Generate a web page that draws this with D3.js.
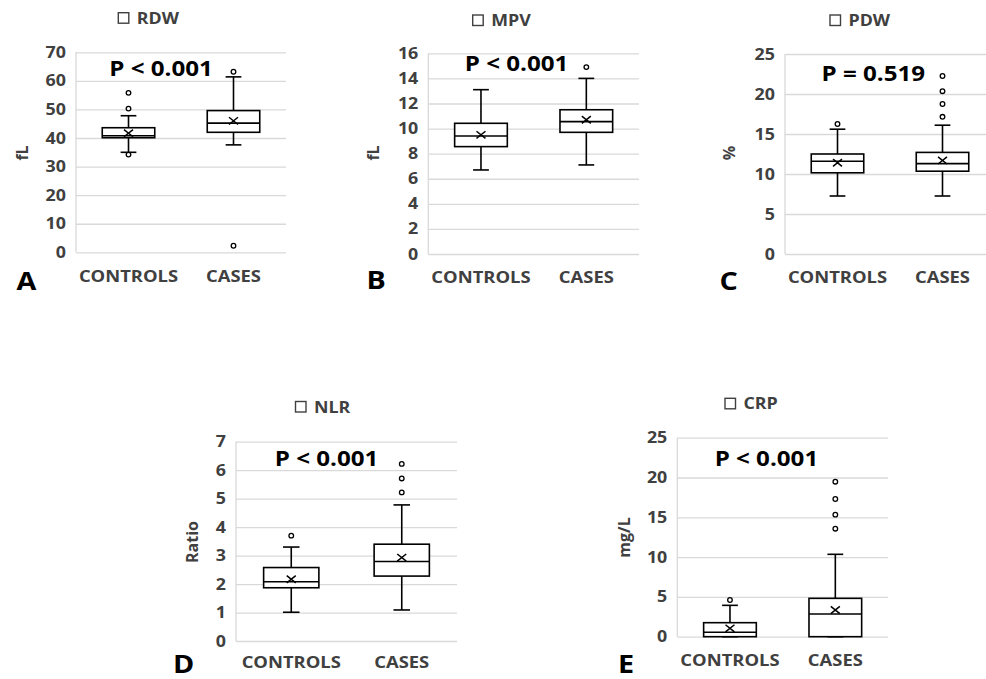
<!DOCTYPE html>
<html>
<head>
<meta charset="utf-8">
<script src="https://cdn.jsdelivr.net/npm/d3@7"></script>
<style>
  html, body { margin: 0; padding: 0; background: #fff; }
  svg { display: block; }
  text { font-family: "Open Sans", "Noto Sans", sans-serif; font-weight: 700; }
</style>
</head>
<body>
<svg id="chart" width="986" height="679"></svg>
<script>
// ---------------- DATA ----------------
const groups = ["CONTROLS", "CASES"];
const markers = ["RDW", "MPV", "PDW", "NLR", "CRP"];
const units = ["fL", "fL", "%", "Ratio", "mg/L"];
const pValues = ["P < 0.001", "P < 0.001", "P = 0.519", "P < 0.001", "P < 0.001"];
const panelLetters = ["A", "B", "C", "D", "E"];
const yMaxima = [70, 16, 25, 7, 25];
const yTickSteps = [10, 2, 5, 1, 5];

// box statistics per group: [min whisker, Q1, median, Q3, max whisker, mean]
const rdwStats = [[35.0, 40.1, 40.8, 43.6, 47.8, 41.7], [37.6, 42.0, 45.2, 49.6, 61.4, 46.0]];
const rdwOutliers = [[55.8, 50.3, 34.2], [63.2, 2.3]];
const mpvStats = [[6.7, 8.56, 9.41, 10.42, 13.1, 9.5], [7.1, 9.7, 10.55, 11.5, 14.0, 10.7]];
const mpvOutliers = [[], [14.9]];
const pdwStats = [[7.25, 10.15, 11.6, 12.5, 15.6, 11.4], [7.25, 10.35, 11.3, 12.7, 16.1, 11.7]];
const pdwOutliers = [[16.25], [22.25, 20.35, 18.75, 17.15]];
const nlrStats = [[1.01, 1.87, 2.08, 2.58, 3.30, 2.17], [1.09, 2.28, 2.79, 3.40, 4.78, 2.93]];
const nlrOutliers = [[3.70], [6.22, 5.71, 5.22]];
const crpStats = [[0, 0, 0.55, 1.76, 3.94, 1.05], [0, 0, 2.85, 4.82, 10.35, 3.35]];
const crpOutliers = [[4.61], [19.47, 17.3, 15.33, 13.57]];

const allStats = [rdwStats, mpvStats, pdwStats, nlrStats, crpStats];
const allOutliers = [rdwOutliers, mpvOutliers, pdwOutliers, nlrOutliers, crpOutliers];

// ---------------- LAYOUT ----------------
const layout = [
  {left: 76,    right: 286, top: 52.3,  bottom: 252.3, legendX: 118.3, legendY: 12.7,  pX: 161,   pY: 76,  letterX: 16.5,  letterY: 289.5, yLabelX: 22.5,  yLabelY: 153,   xLabelY: 281.7},
  {left: 428.3, right: 639, top: 53.3,  bottom: 254,   legendX: 472.7, legendY: 15,    pX: 516.5, pY: 71,  letterX: 366.5, letterY: 288.5, yLabelX: 373.3, yLabelY: 153,   xLabelY: 282.7},
  {left: 785,   right: 995, top: 54,    bottom: 254,   legendX: 830,   legendY: 15,    pX: 873.3, pY: 81,  letterX: 719.5, letterY: 290,   yLabelX: 729.5, yLabelY: 153,   xLabelY: 282.7},
  {left: 236,   right: 457, top: 441.7, bottom: 641,   legendX: 295.5, legendY: 401.5, pX: 326.5, pY: 466, letterX: 173,   letterY: 673,   yLabelX: 192.6, yLabelY: 542,   xLabelY: 668.3},
  {left: 677.3, right: 888, top: 437.7, bottom: 636.7, legendX: 725,   legendY: 398.3, pX: 766.4, pY: 466, letterX: 618,   letterY: 673,   yLabelX: 624,   yLabelY: 537.5, xLabelY: 665.7}
];

const SX = 1.15;          // horizontal stretch of the reference's lettering
const TEXT_GRAY = "#404040";
const GRID = "#d9d9d9";

const svg = d3.select("#chart");

function stretched(g, x, y, str, opts) {
  const t = g.append("text")
    .attr("transform", `translate(${x},${y}) scale(${SX},1)`)
    .attr("text-anchor", opts.anchor || "start")
    .attr("font-size", opts.size)
    .attr("fill", opts.fill || TEXT_GRAY)
    .text(str);
  if (opts.dy) t.attr("dy", opts.dy);
  return t;
}

markers.forEach((name, i) => {
  const L = layout[i];
  const g = svg.append("g");
  const y = d3.scaleLinear().domain([0, yMaxima[i]]).range([L.bottom, L.top]);
  const x = d3.scaleBand().domain(groups).range([L.left, L.right]);
  const ticks = d3.range(0, yMaxima[i] + yTickSteps[i] / 2, yTickSteps[i]);

  // gridlines via axis
  const grid = g.append("g")
    .attr("transform", `translate(${L.left},0)`)
    .call(d3.axisLeft(y).tickValues(ticks).tickSize(-(L.right - L.left)).tickFormat(""));
  grid.select(".domain").remove();
  grid.selectAll("line").attr("stroke", GRID).attr("stroke-width", 1.3);

  // left axis line
  g.append("line")
    .attr("x1", L.left).attr("x2", L.left)
    .attr("y1", y(yMaxima[i])).attr("y2", y(0))
    .attr("stroke", GRID).attr("stroke-width", 1.3);

  // tick labels
  ticks.forEach(v => {
    stretched(g, L.left - 10, y(v), String(v), {anchor: "end", size: 15.5, dy: "0.36em"});
  });

  // category labels
  groups.forEach(c => {
    stretched(g, x(c) + x.bandwidth() / 2, L.xLabelY, c, {anchor: "middle", size: 16});
  });

  // y-axis title
  g.append("text")
    .attr("transform", `translate(${L.yLabelX},${L.yLabelY}) rotate(-90)`)
    .attr("text-anchor", "middle")
    .attr("dy", "0.36em")
    .attr("font-size", 16)
    .attr("fill", TEXT_GRAY)
    .text(units[i]);

  // legend / title
  g.append("rect")
    .attr("x", L.legendX).attr("y", L.legendY)
    .attr("width", 10.5).attr("height", 10.5)
    .attr("fill", "#fff").attr("stroke", TEXT_GRAY).attr("stroke-width", 1.4);
  stretched(g, L.legendX + 18.5, L.legendY + 11, name, {size: 15.5});

  // P value
  stretched(g, L.pX, L.pY, pValues[i], {anchor: "middle", size: 21, fill: "#000"});

  // panel letter
  stretched(g, L.letterX, L.letterY, panelLetters[i], {size: 25, fill: "#000"});

  // boxes
  const bw = x.bandwidth() * 0.5;
  const cw = x.bandwidth() * 0.15;
  groups.forEach((c, k) => {
    const [mn, q1, med, q3, mx, mean] = allStats[i][k];
    const cx = x(c) + x.bandwidth() / 2;
    const bg = g.append("g").attr("stroke", "#000").attr("fill", "none").attr("stroke-width", 1.6);
    // whiskers
    bg.append("line").attr("x1", cx).attr("x2", cx).attr("y1", y(q3)).attr("y2", y(mx));
    bg.append("line").attr("x1", cx).attr("x2", cx).attr("y1", y(q1)).attr("y2", y(mn));
    bg.append("line").attr("x1", cx - cw / 2).attr("x2", cx + cw / 2).attr("y1", y(mx)).attr("y2", y(mx));
    bg.append("line").attr("x1", cx - cw / 2).attr("x2", cx + cw / 2).attr("y1", y(mn)).attr("y2", y(mn));
    // box
    bg.append("rect")
      .attr("x", cx - bw / 2).attr("y", y(q3))
      .attr("width", bw).attr("height", y(q1) - y(q3))
      .attr("fill", "#fff");
    bg.append("line").attr("x1", cx - bw / 2).attr("x2", cx + bw / 2).attr("y1", y(med)).attr("y2", y(med));
    // mean marker
    const m = 4.5;
    bg.append("path")
      .attr("d", `M${cx - m},${y(mean) - m * 0.8}L${cx + m},${y(mean) + m * 0.8}M${cx - m},${y(mean) + m * 0.8}L${cx + m},${y(mean) - m * 0.8}`)
      .attr("stroke-width", 1.5);
    // outliers
    allOutliers[i][k].forEach(o => {
      bg.append("circle")
        .attr("cx", cx).attr("cy", y(o)).attr("r", 2.3)
        .attr("fill", "#fff").attr("stroke-width", 1.3);
    });
  });
});
</script>
</body>
</html>
